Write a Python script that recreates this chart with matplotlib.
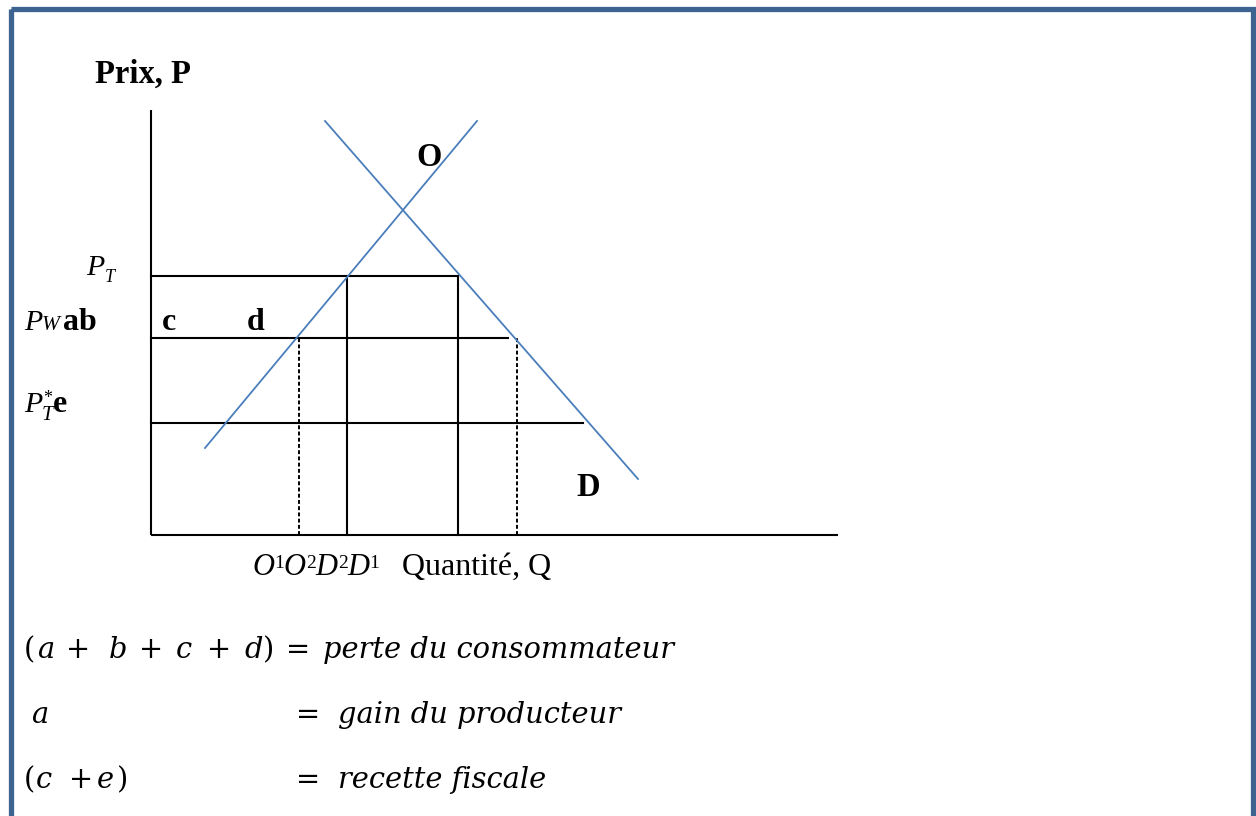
import matplotlib
matplotlib.use("Agg")
import matplotlib.pyplot as plt
from matplotlib.patches import Rectangle

# ---------------- data (diagram units) ----------------
supply_q = [54, 326]
supply_p = [87, 414]
demand_q = [174, 487]
demand_p = [414, 56]

price_PT = 259      # tariff-inclusive price
price_PW = 197      # world price
price_PTstar = 112  # foreign price net of tariff

q_O1 = 148
q_O2 = 196
q_D2 = 307
q_D1 = 366

line_end_PT = q_D2
line_end_PW = 357
line_end_PTstar = 432

axis_top = 425
axis_right = 687

W, H = 1256, 816
fig = plt.figure(figsize=(W / 100, H / 100), dpi=100)
fig.patch.set_facecolor("white")

# main diagram axes (1 unit = 1 px), origin at the axis corner
ax = fig.add_axes([0, 0, 1, 1])
ax.set_xlim(-151, W - 151)
ax.set_ylim(535 - H, 535)
ax.axis("off")

# overlay axes in pixel coords for text / frame
tax = fig.add_axes([0, 0, 1, 1])
tax.set_xlim(0, W)
tax.set_ylim(H, 0)
tax.axis("off")
tax.patch.set_alpha(0)

BLUE = "#4A7EBB"
BLK = "black"
lw_k = 1.5

# axes lines
ax.plot([0, 0], [0, axis_top], color=BLK, lw=lw_k, solid_capstyle="butt")
ax.plot([0, axis_right], [0, 0], color=BLK, lw=lw_k, solid_capstyle="butt")

# price lines
ax.plot([0, line_end_PT], [price_PT, price_PT], color=BLK, lw=lw_k)
ax.plot([0, line_end_PW], [price_PW, price_PW], color=BLK, lw=lw_k)
ax.plot([0, line_end_PTstar], [price_PTstar, price_PTstar], color=BLK, lw=lw_k)

# quantity verticals
ax.plot([q_O2, q_O2], [0, price_PT], color=BLK, lw=lw_k)
ax.plot([q_D2, q_D2], [0, price_PT], color=BLK, lw=lw_k)
ax.plot([q_O1, q_O1], [0, price_PW], color=BLK, lw=1.4, dashes=(2.0, 1.2))
ax.plot([q_D1, q_D1], [0, price_PW], color=BLK, lw=1.4, dashes=(2.0, 1.2))

# supply and demand
ax.plot(supply_q, supply_p, color=BLUE, lw=1.3)
ax.plot(demand_q, demand_p, color=BLUE, lw=1.3)

# frame
tax.add_patch(Rectangle((10.5, 8.5), 1242, 900, fill=False,
                        edgecolor="#3D6491", lw=3.8, joinstyle="miter",
                        clip_on=False))

SERIF = "Liberation Serif"
MATH = "DejaVu Serif"
r = fig.canvas.get_renderer()


def seq(x, y, pieces):
    for s, kw, dy in pieces:
        t = tax.text(x, y + dy, s, ha="left", va="baseline", family=SERIF, **kw)
        bb = t.get_window_extent(renderer=r)
        x += bb.width
    return x


# titles
tax.text(95, 83, "Prix, P", family=SERIF, weight="bold", fontsize=23.5,
         ha="left", va="baseline")
tax.text(416, 166, "O", family=SERIF, weight="bold", fontsize=23.5,
         ha="left", va="baseline")
tax.text(576, 496, "D", family=SERIF, weight="bold", fontsize=23.5,
         ha="left", va="baseline")
tax.text(162, 330, "c", family=SERIF, weight="bold", fontsize=23,
         ha="left", va="baseline")
tax.text(247, 330, "d", family=SERIF, weight="bold", fontsize=23,
         ha="left", va="baseline")

# price labels
tax.text(86, 275, "P", family=SERIF, style="italic", fontsize=21.5,
         ha="left", va="baseline")
tax.text(105, 282, "T", family=SERIF, style="italic", fontsize=13,
         ha="left", va="baseline")

tax.text(24, 330, "P", family=SERIF, style="italic", fontsize=21.5,
         ha="left", va="baseline")
tax.text(42, 330, "W", family=SERIF, style="italic", fontsize=15.5,
         ha="left", va="baseline")
tax.text(63, 330, "ab", family=SERIF, weight="bold", fontsize=23,
         ha="left", va="baseline")

tax.text(24, 412, "P", family=SERIF, style="italic", fontsize=21.5,
         ha="left", va="baseline")
tax.text(43, 403, "*", family=SERIF, fontsize=13, ha="left", va="baseline")
tax.text(42, 420, "T", family=SERIF, style="italic", fontsize=15,
         ha="left", va="baseline")
tax.text(53, 412, "e", family=SERIF, weight="bold", fontsize=23,
         ha="left", va="baseline")

# quantity labels
seq(252, 575, [
    ("O", dict(style="italic", fontsize=22), 0),
    ("1", dict(fontsize=14), -7),
    ("O", dict(style="italic", fontsize=22), 0),
    ("2", dict(fontsize=14), -7),
    ("D", dict(style="italic", fontsize=22), 0),
    ("2", dict(fontsize=14), -7),
    ("D", dict(style="italic", fontsize=22), 0),
    ("1", dict(fontsize=14), -7),
])
tax.text(402, 575, "Quantité, Q", family=SERIF, fontsize=23,
         ha="left", va="baseline")

# equations: size fitted so the first phrase spans its width in the reference
probe = tax.text(0, 0, "perte du consommateur", family=MATH, style="italic",
                 fontsize=20)
pw = probe.get_window_extent(renderer=r).width
probe.remove()
EQ = 20 * 350 / pw


def tok(x, y, s, italic=True, size=None):
    tax.text(x, y, s, family=MATH, style="italic" if italic else "normal",
             fontsize=size or EQ, ha="left", va="baseline")


y1, y2, y3 = 658, 723, 788
tok(24, y1, "(", False)
tok(37, y1, "a")
tok(66, y1, "+", False)
tok(109, y1, "b")
tok(139, y1, "+", False)
tok(176, y1, "c")
tok(207, y1, "+", False)
tok(244, y1, "d")
tok(263, y1, ")", False)
tok(286, y1, "=", False)
tok(323, y1, "perte du consommateur")

tok(31, y2, "a")
tok(296, y2, "=", False)
tok(338, y2, "gain du producteur")

tok(24, y3, "(", False)
tok(36, y3, "c")
tok(69, y3, "+", False)
tok(97, y3, "e")
tok(117, y3, ")", False)
tok(296, y3, "=", False)
tok(338, y3, "recette fiscale")

fig.savefig("out.png", dpi=100, facecolor="white")
